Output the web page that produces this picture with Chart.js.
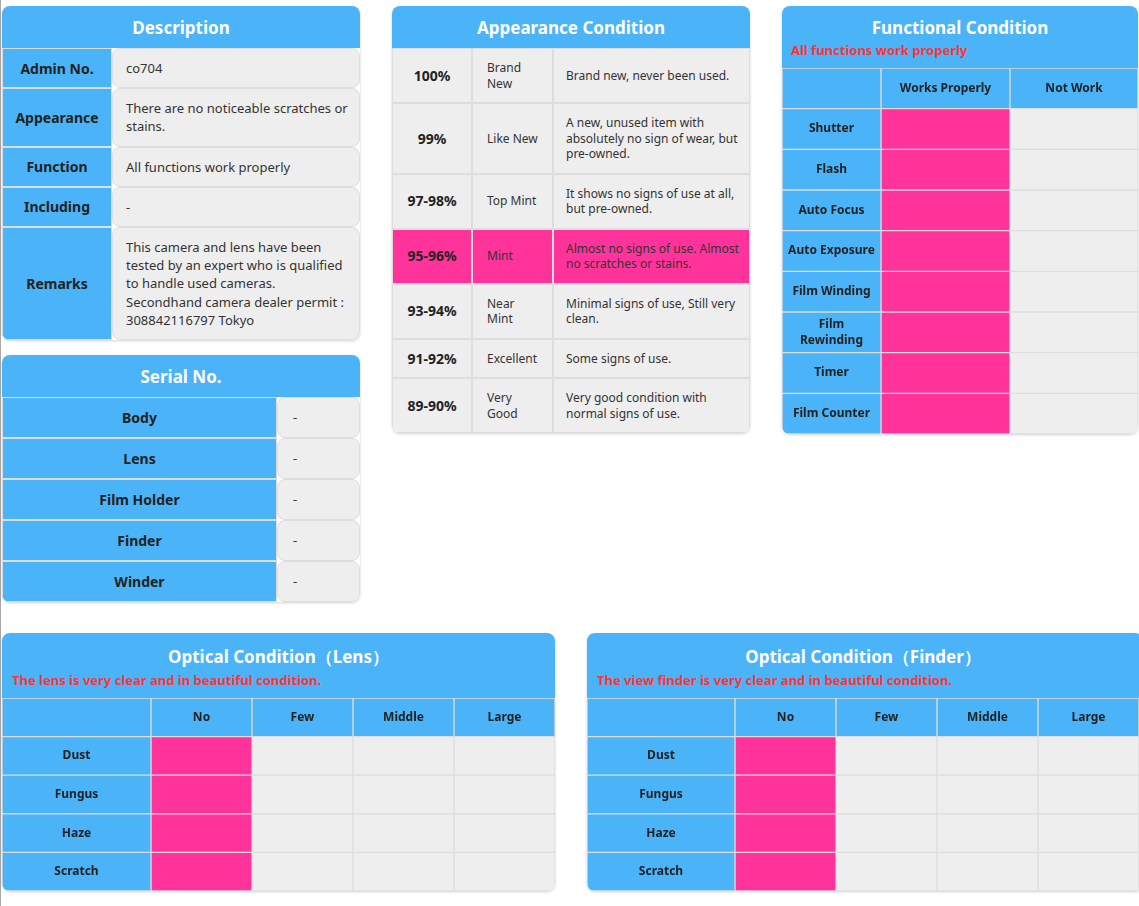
<!DOCTYPE html>
<html>
<head>
<meta charset="utf-8">
<script src="https://cdn.jsdelivr.net/npm/chart.js@4.4.1/dist/chart.umd.min.js"></script>
<style>
  body { margin: 0; width: 1139px; height: 906px; position: relative; background: #fff; overflow: hidden;
         font-family: "Noto Sans", sans-serif; color: #222; }
  .edge { position: absolute; left: 0; top: 0; width: 1px; height: 906px; background: #a8a8a8; }
  .card { position: absolute; border-radius: 8px; overflow: hidden; background: #fff;
          box-shadow: 0 1px 3px rgba(0,0,0,0.18); }
  .head { background: #4bb3f8; color: #fff; text-align: center; font-weight: bold;
          font-size: 17px; height: 42px; line-height: 44px; }
  .head.sub { height: 62px; line-height: normal; position: relative; }
  .head.sub .t { position: absolute; left: 0; right: 0; top: 10px; }
  .head.sub .s { position: absolute; left: 9px; top: 35px; color: #ff3333; font-size: 13px; text-align: left; }
  table { border-collapse: separate; border-spacing: 0; width: 100%; }
  td { border: 1px solid #dddddd; }
  .lab { background: #4bb3f8; font-weight: bold; font-size: 14px; text-align: center; color: #222; }
  .val { background: #eeeeee; border-radius: 8px; font-size: 13px; color: #333;
         padding: 10px 10px 10px 13px; line-height: 18.2px; }
  #appear td { background: #eeeeee; font-size: 12px; line-height: 15.5px; padding: 11px 6px 11px 12px; color: #333; }
  #appear td.rate { font-weight: bold; font-size: 14px; text-align: center; padding: 0; color: #222; }
  #appear tr.on td { background: #ff3399; }
  canvas { display: block; }
</style>
</head>
<body>
<div class="edge"></div>

<div class="card" style="left:2px; top:6px; width:358px;">
  <div class="head">Description</div>
  <table id="desc"></table>
</div>

<div class="card" style="left:2px; top:355px; width:358px;">
  <div class="head">Serial No.</div>
  <table id="serial"></table>
</div>

<div class="card" style="left:392px; top:6px; width:358px;">
  <div class="head">Appearance Condition</div>
  <table id="appear"></table>
</div>

<div class="card" style="left:782px; top:6px; width:356px; height:428px;">
  <div class="head sub"><div class="t">Functional Condition</div><div class="s">All functions work properly</div></div>
  <canvas id="funcChart"></canvas>
</div>

<div class="card" style="left:2px; top:633px; width:553px; height:258px;">
  <div class="head sub" style="height:65px"><div class="t" style="top:12px">Optical Condition（Lens）</div><div class="s" style="left:10px; top:38px">The lens is very clear and in beautiful condition.</div></div>
  <canvas id="lensChart"></canvas>
</div>

<div class="card" style="left:587px; top:633px; width:556px; height:258px;">
  <div class="head sub" style="height:65px"><div class="t" style="top:12px; right:4px">Optical Condition（Finder）</div><div class="s" style="left:10px; top:38px">The view finder is very clear and in beautiful condition.</div></div>
  <canvas id="finderChart"></canvas>
</div>

<script>
// description
const descLabels = ['Admin No.', 'Appearance', 'Function', 'Including', 'Remarks'];
const descValues = [
  'co704',
  'There are no noticeable scratches or stains.',
  'All functions work properly',
  '-',
  'This camera and lens have been tested by an expert who is qualified to handle used cameras.<br>Secondhand camera dealer permit : 308842116797 Tokyo'
];

// serial numbers
const serialLabels = ['Body', 'Lens', 'Film Holder', 'Finder', 'Winder'];
const serialValues = ['-', '-', '-', '-', '-'];

// appearance grades
const gradeRates = ['100%', '99%', '97-98%', '95-96%', '93-94%', '91-92%', '89-90%'];
const gradeNames = ['Brand New', 'Like New', 'Top Mint', 'Mint', 'Near Mint', 'Excellent', 'Very Good'];
const gradeNotes = [
  'Brand new, never been used.',
  'A new, unused item with absolutely no sign of wear, but pre-owned.',
  'It shows no signs of use at all, but pre-owned.',
  'Almost no signs of use. Almost no scratches or stains.',
  'Minimal signs of use, Still very clean.',
  'Some signs of use.',
  'Very good condition with normal signs of use.'
];
const currentGrade = '95-96%';

// functional / optical condition (index of the marked column per row)
const funcRows = ['Shutter', 'Flash', 'Auto Focus', 'Auto Exposure', 'Film Winding', 'Film Rewinding', 'Timer', 'Film Counter'];
const funcCols = ['Works Properly', 'Not Work'];
const funcState = [0, 0, 0, 0, 0, 0, 0, 0];

const opticalRows = ['Dust', 'Fungus', 'Haze', 'Scratch'];
const opticalCols = ['No', 'Few', 'Middle', 'Large'];
const lensState = [0, 0, 0, 0];
const finderState = [0, 0, 0, 0];

const BLUE = '#4bb3f8', PINK = '#ff3399', GREY = '#eeeeee', LINE = '#dddddd';

// plain text tables
document.getElementById('desc').innerHTML = descLabels.map(function(l, i) {
  return '<tr><td class="lab" style="width:106px">' + l + '</td><td class="val">' + descValues[i] + '</td></tr>';
}).join('');

document.getElementById('serial').innerHTML = serialLabels.map(function(l, i) {
  return '<tr style="height:41px"><td class="lab">' + l + '</td><td class="val" style="width:56px; padding-left:15px">' + serialValues[i] + '</td></tr>';
}).join('');

document.getElementById('appear').innerHTML = gradeRates.map(function(r, i) {
  var cls = r === currentGrade ? ' class="on"' : '';
  return '<tr' + cls + '><td class="rate" style="width:78px">' + r + '</td>' +
    '<td style="width:53px; padding-left:14px; padding-right:12px">' + gradeNames[i] + '</td>' +
    '<td>' + gradeNotes[i] + '</td></tr>';
}).join('');

// condition grids: each column is a floating bar dataset on a linear x scale
const cellText = {
  id: 'cellText',
  afterDatasetsDraw: function(chart) {
    var ctx = chart.ctx, xs = chart.scales.x, ys = chart.scales.y;
    var edges = chart.options.plugins.cellText.edges;
    var rows = chart.data.labels, cols = chart.options.plugins.cellText.cols;
    ctx.save();
    ctx.fillStyle = '#222';
    ctx.font = 'bold 12px "Noto Sans"';
    ctx.textAlign = 'center';
    ctx.textBaseline = 'middle';
    function put(text, a, b, row) {
      var cx = (xs.getPixelForValue(a) + xs.getPixelForValue(b)) / 2;
      var cy = ys.getPixelForValue(row);
      var room = xs.getPixelForValue(b) - xs.getPixelForValue(a) - 10;
      var lines = ctx.measureText(text).width > room ? text.split(' ') : [text];
      lines.forEach(function(t, k) {
        ctx.fillText(t, cx, cy + (k - (lines.length - 1) / 2) * 16);
      });
    }
    cols.forEach(function(c, j) { put(c, edges[j + 1], edges[j + 2], 0); });
    rows.forEach(function(r, i) { if (i > 0) put(r, edges[0], edges[1], i); });
    ctx.restore();
  }
};

function gridChart(id, rows, cols, state, widths, height) {
  var edges = [0];
  widths.forEach(function(w) { edges.push(edges[edges.length - 1] + w); });
  var labels = [''].concat(rows);
  var datasets = [{
    data: labels.map(function() { return [edges[0], edges[1]]; }),
    backgroundColor: BLUE
  }];
  cols.forEach(function(c, j) {
    datasets.push({
      data: labels.map(function() { return [edges[j + 1], edges[j + 2]]; }),
      backgroundColor: labels.map(function(r, i) {
        if (i === 0) return BLUE;
        return state[i - 1] === j ? PINK : GREY;
      })
    });
  });
  var el = document.getElementById(id);
  el.style.width = edges[edges.length - 1] + 'px';
  el.style.height = height + 'px';
  return new Chart(el, {
    type: 'bar',
    data: { labels: labels, datasets: datasets },
    options: {
      indexAxis: 'y',
      responsive: false,
      animation: false,
      events: [],
      layout: { padding: 0 },
      datasets: {
        bar: { grouped: false, barPercentage: 1, categoryPercentage: 1,
               borderColor: LINE, borderWidth: 1, borderSkipped: false }
      },
      scales: {
        x: { type: 'linear', min: 0, max: edges[edges.length - 1], display: false },
        y: { type: 'category', display: false, offset: true }
      },
      plugins: {
        legend: { display: false },
        tooltip: { enabled: false },
        cellText: { edges: edges, cols: cols }
      }
    },
    plugins: [cellText]
  });
}

gridChart('funcChart', funcRows, funcCols, funcState, [99, 129, 128], 366);
gridChart('lensChart', opticalRows, opticalCols, lensState, [149, 101, 101, 101, 101], 193);
gridChart('finderChart', opticalRows, opticalCols, finderState, [148, 101, 101, 101, 101], 193);
</script>
</body>
</html>
